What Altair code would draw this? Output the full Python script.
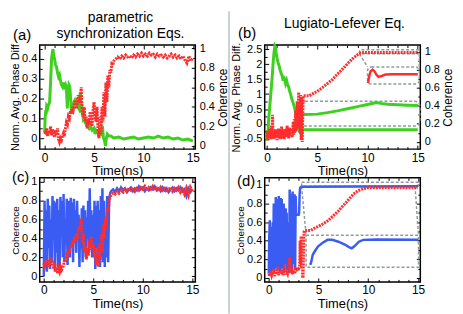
import altair as alt
import pandas as pd

FONT = "Liberation Sans"
W, H = 157, 105
GREEN = "#3fcf1f"
RED = "#ff2d2d"
BLUE = "#3a5cf2"
GRAY = "#8e9c9c"

# tick positions (labels shown only on the major ones)
X_TICKS = [0, 1, 2, 3, 4, 5, 6, 7, 8, 9, 10, 11, 12, 13, 14, 15]
PHASE_A_TICKS = [0, 0.05, 0.1, 0.15, 0.2, 0.25, 0.3, 0.35, 0.4, 0.45]
PHASE_B_TICKS = [-0.5, -0.25, 0, 0.25, 0.5, 0.75, 1, 1.25, 1.5, 1.75, 2, 2.25, 2.5]
COH_TICKS = [0, 0.1, 0.2, 0.3, 0.4, 0.5, 0.6, 0.7, 0.8, 0.9, 1]

TITLE_A = ["parametric", "synchronization Eqs."]
TITLE_B = ["Lugiato-Lefever Eq."]

# ---------------- panel (a) ----------------
green_a = [(0,0.03),(0.05,0.10),(0.1,0.14),(0.15,0.12),(0.2,0.16),(0.3,0.15),(0.4,0.17),(0.5,0.18),
           (0.6,0.28),(0.7,0.40),(0.8,0.44),(0.85,0.45),(0.9,0.42),(1.0,0.40),(1.1,0.37),(1.2,0.36),
           (1.3,0.33),(1.4,0.31),(1.5,0.32),(1.6,0.29),(1.7,0.27),(1.8,0.26),(1.9,0.28),(2.0,0.26),
           (2.1,0.27),(2.2,0.25),(2.3,0.15),(2.35,0.24),(2.45,0.27),(2.55,0.26),(2.65,0.18),(2.75,0.13),
           (2.85,0.16),(2.95,0.18),(3.05,0.19),(3.15,0.17),(3.25,0.20),(3.35,0.16),(3.45,0.15),(3.55,0.21),
           (3.62,0.23),(3.7,0.13),(3.8,0.14),(3.9,0.10),(4.0,0.11),(4.1,0.08),(4.2,0.07),(4.3,0.09),
           (4.4,0.06),(4.5,0.05),(4.6,0.06),(4.8,0.04),(5.0,0.05),(5.1,0.02),(5.2,0.04),(5.4,0.03),
           (5.5,0.01),(5.6,0.03),(5.75,0.02),(5.85,0.06),(5.95,0.00),(6.05,-0.01),(6.15,-0.04),(6.25,0.00),
           (6.35,0.02),(6.5,0.01),(6.7,0.01),(7.0,0.00),(7.5,0.005),(8.0,-0.005),(8.5,0.00),(9.0,0.005),
           (9.5,-0.005),(10.0,0.00),(10.5,0.005),(11.0,0.00),(11.5,0.01),(12.0,0.00),(12.5,0.005),
           (13.0,-0.005),(13.5,0.00),(14.0,-0.01),(14.5,-0.005),(15.0,-0.015)]
red_a = [(0,0.15),(0.1,0.12),(0.2,0.18),(0.3,0.10),(0.4,0.16),(0.5,0.13),(0.6,0.20),(0.7,0.11),(0.8,0.17),
         (0.9,0.14),(1.0,0.09),(1.1,0.16),(1.2,0.12),(1.3,0.18),(1.4,0.07),(1.5,0.04),(1.6,0.08),(1.7,0.06),
         (1.8,0.10),(1.9,0.13),(2.0,0.10),(2.1,0.18),(2.2,0.24),(2.3,0.22),(2.4,0.30),(2.5,0.28),(2.6,0.36),
         (2.7,0.33),(2.8,0.40),(2.9,0.37),(3.0,0.42),(3.1,0.47),(3.2,0.38),(3.3,0.45),(3.4,0.52),(3.5,0.44),
         (3.6,0.48),(3.7,0.60),(3.8,0.35),(3.9,0.30),(4.0,0.40),(4.1,0.25),(4.2,0.30),(4.3,0.18),(4.4,0.28),
         (4.5,0.22),(4.6,0.35),(4.7,0.26),(4.8,0.20),(4.9,0.38),(5.0,0.45),(5.1,0.30),(5.2,0.25),(5.3,0.40),
         (5.4,0.15),(5.5,0.08),(5.6,0.30),(5.7,0.12),(5.8,0.40),(5.9,0.25),(6.0,0.55),(6.1,0.30),(6.2,0.65),
         (6.3,0.45),(6.4,0.72),(6.5,0.60),(6.6,0.78),(6.7,0.75),(6.8,0.84),(6.9,0.83),(7.0,0.87),(7.2,0.89),
         (7.4,0.91),(7.6,0.89),(7.8,0.92),(8.0,0.90),(8.2,0.93),(8.4,0.91),(8.6,0.92),(8.8,0.90),(9.0,0.93),
         (9.2,0.91),(9.4,0.94),(9.6,0.92),(9.8,0.95),(10.0,0.92),(10.2,0.94),(10.4,0.92),(10.6,0.95),
         (10.8,0.93),(11.0,0.94),(11.2,0.91),(11.4,0.94),(11.6,0.92),(11.8,0.93),(12.0,0.91),(12.2,0.93),
         (12.4,0.90),(12.6,0.92),(12.8,0.94),(13.0,0.91),(13.2,0.93),(13.4,0.90),(13.6,0.92),(13.8,0.89),
         (14.0,0.92),(14.2,0.88),(14.4,0.85),(14.6,0.92),(14.8,0.87),(15.0,0.90)]

# ---------------- panel (b) ----------------
green_b = [(0,-0.55),(0.05,-0.2),(0.1,-0.4),(0.15,0.1),(0.2,0.3),(0.3,0.7),(0.4,1.1),(0.5,1.5),(0.6,2.0),
           (0.7,2.4),(0.78,2.6),(0.85,2.55),(0.9,2.4),(1.0,2.2),(1.1,2.05),(1.2,1.95),(1.3,1.8),(1.4,1.7),
           (1.5,1.62),(1.6,1.45),(1.65,1.6),(1.75,1.5),(1.85,1.35),(1.95,1.45),(2.05,1.3),(2.15,1.25),
           (2.25,1.1),(2.35,1.0),(2.45,0.85),(2.55,0.75),(2.7,0.6),(2.8,0.45),(2.9,0.3),(3.0,0.15),
           (3.1,-0.05),(3.2,-0.2),(3.3,-0.3),(3.4,-0.32),(3.5,-0.25),(3.6,-0.19),(4.0,-0.19),(15.0,-0.19)]
red_b = [(0,0.05),(0.05,0.12),(0.1,0.02),(0.15,0.10),(0.2,0.04),(0.25,0.15),(0.3,0.06),(0.35,0.12),(0.4,0.03),
         (0.45,0.18),(0.5,0.08),(0.55,0.30),(0.6,0.05),(0.65,0.12),(0.7,0.03),(0.75,0.10),(0.8,0.06),(0.85,0.14),
         (0.9,0.04),(0.95,0.09),(1.0,0.02),(1.05,0.12),(1.1,0.06),(1.15,0.15),(1.2,0.05),(1.25,0.10),(1.3,0.03),
         (1.35,0.13),(1.4,0.07),(1.45,0.17),(1.5,0.04),(1.55,0.11),(1.6,0.06),(1.65,0.14),(1.7,0.03),(1.75,0.09),
         (1.8,0.12),(1.85,0.05),(1.9,0.15),(1.95,0.08),(2.0,0.18),(2.05,0.06),(2.1,0.12),(2.15,0.04),(2.2,0.10),
         (2.25,0.16),(2.3,0.07),(2.4,0.13),(2.5,0.05),(2.6,0.22),(2.65,0.08),(2.7,0.25),(2.75,0.10),(2.8,0.15),
         (2.85,0.35),(2.9,0.12),(2.95,0.20),(3.0,0.45),(3.05,0.15),(3.1,0.30),(3.15,0.55),(3.2,0.20),(3.25,0.40),
         (3.3,0.10),(3.35,0.52),(3.4,0.02),(3.45,0.50),(3.5,0.0),(3.6,0.51),(4.2,0.51),(4.5,0.53),(5.0,0.56),
         (5.5,0.60),(6.0,0.645),(6.5,0.69),(7.0,0.75),(7.5,0.805),(8.0,0.865),(8.5,0.92),(9.0,0.965),
         (9.3,0.985),(9.6,0.99),(10.0,0.99),(15.0,0.99)]
inset_red_b = [(10.05,0.65),(10.15,0.72),(10.3,0.78),(10.5,0.80),(10.7,0.78),(10.9,0.74),(11.1,0.72),
               (11.4,0.73),(11.8,0.745),(12.5,0.75),(15.0,0.75)]
inset_green_b = [(3.4,0.12),(3.5,0.31),(3.7,0.32),(5.0,0.33),(6.0,0.38),(7.0,0.44),(8.0,0.51),(9.0,0.58),
                 (10.0,0.65),(10.9,0.72),(11.3,0.69),(12.0,0.66),(13.0,0.645),(14.0,0.63),(15.0,0.62)]
# dashed boxes (t0, t1, v0, v1) and connectors (t0, v0, t1, v1)
boxes_b_right = [(9.2, 15.15, 0.975, 1.02), (10.0, 15.15, 0.64, 0.83)]
links_b_right = [(9.2, 0.975, 10.0, 0.83), (15.15, 0.975, 15.15, 0.83)]
boxes_b_left = [(3.3, 15.2, -0.07, 0.76)]

# ---------------- panel (c) ----------------
blue_c = [(0,0.00),(0.08,0.80),(0.16,0.10),(0.24,0.70),(0.32,0.05),(0.40,0.82),(0.48,0.30),(0.56,0.75),
          (0.64,0.08),(0.72,0.60),(0.80,0.15),(0.88,0.85),(0.96,0.40),(1.04,0.80),(1.12,0.05),(1.20,0.78),
          (1.28,0.25),(1.36,0.82),(1.44,0.10),(1.52,0.70),(1.60,0.06),(1.68,0.84),(1.76,0.45),(1.84,0.80),
          (1.92,0.20),(2.00,0.87),(2.08,0.15),(2.16,0.60),(2.24,0.35),(2.32,0.82),(2.40,0.12),(2.48,0.50),
          (2.56,0.80),(2.64,0.20),(2.72,0.83),(2.80,0.30),(2.88,0.78),(2.96,0.15),(3.04,0.82),(3.12,0.45),
          (3.20,0.70),(3.28,0.25),(3.36,0.80),(3.44,0.45),(3.52,0.65),(3.60,0.10),(3.68,0.60),(3.76,0.30),
          (3.84,0.72),(3.92,0.15),(4.00,0.75),(4.08,0.35),(4.16,0.70),(4.24,0.20),(4.32,0.62),(4.40,0.40),
          (4.48,0.80),(4.56,0.25),(4.64,0.93),(4.72,0.30),(4.80,0.70),(4.88,0.20),(4.96,0.65),(5.04,0.25),
          (5.12,0.80),(5.20,0.08),(5.28,0.75),(5.36,0.30),(5.44,0.80),(5.52,0.15),(5.60,0.70),(5.68,0.10),
          (5.76,0.85),(5.84,0.20),(5.92,0.93),(6.00,0.15),(6.08,0.80),(6.16,0.10),(6.24,0.60),(6.32,0.20),
          (6.40,0.85),(6.50,0.15),(6.60,0.80),(6.70,0.88),(6.80,0.90),(7.0,0.92),(7.2,0.89),(7.4,0.93),
          (7.6,0.90),(7.8,0.94),(8.0,0.91),(8.2,0.93),(8.4,0.89),(8.6,0.92),(8.8,0.94),(9.0,0.90),(9.2,0.93),
          (9.4,0.91),(9.6,0.95),(9.8,0.92),(10.0,0.94),(10.2,0.90),(10.4,0.93),(10.6,0.91),(10.8,0.94),
          (11.0,0.92),(11.2,0.95),(11.4,0.91),(11.6,0.93),(11.8,0.90),(12.0,0.94),(12.2,0.91),(12.4,0.93),
          (12.6,0.89),(12.8,0.92),(13.0,0.94),(13.2,0.90),(13.4,0.93),(13.6,0.91),(13.8,0.94),(14.0,0.90),
          (14.2,0.92),(14.4,0.85),(14.6,0.93),(14.8,0.89),(15.0,0.92)]
red_c = [(0,0.14),(0.1,0.11),(0.2,0.16),(0.3,0.12),(0.4,0.18),(0.5,0.10),(0.6,0.15),(0.7,0.20),(0.8,0.12),
         (0.9,0.17),(1.0,0.08),(1.1,0.14),(1.2,0.06),(1.3,0.10),(1.4,0.03),(1.5,0.08),(1.6,0.05),(1.7,0.10),
         (1.8,0.07),(1.9,0.09),(2.0,0.12),(2.1,0.18),(2.2,0.15),(2.3,0.22),(2.4,0.20),(2.5,0.28),(2.6,0.25),
         (2.7,0.33),(2.8,0.30),(2.9,0.38),(3.0,0.35),(3.1,0.42),(3.2,0.37),(3.3,0.45),(3.4,0.40),(3.5,0.52),
         (3.6,0.48),(3.7,0.58),(3.8,0.61),(3.9,0.35),(4.0,0.45),(4.1,0.25),(4.2,0.32),(4.3,0.18),(4.4,0.30),
         (4.5,0.22),(4.6,0.38),(4.7,0.28),(4.8,0.42),(4.9,0.30),(5.0,0.35),(5.1,0.20),(5.2,0.30),(5.3,0.12),
         (5.4,0.25),(5.5,0.10),(5.6,0.35),(5.7,0.15),(5.8,0.45),(5.9,0.25),(6.0,0.55),(6.1,0.40),(6.2,0.62),
         (6.3,0.50),(6.4,0.72),(6.5,0.68),(6.6,0.80),(6.7,0.84),(6.8,0.86),(7.0,0.88),(7.2,0.87),(7.4,0.90),
         (7.6,0.88),(7.8,0.91),(8.0,0.89),(8.2,0.92),(8.4,0.90),(8.6,0.93),(8.8,0.91),(9.0,0.94),(9.2,0.90),
         (9.4,0.93),(9.6,0.91),(9.8,0.94),(10.0,0.92),(10.2,0.95),(10.4,0.91),(10.6,0.94),(10.8,0.92),
         (11.0,0.95),(11.2,0.91),(11.4,0.93),(11.6,0.90),(11.8,0.94),(12.0,0.91),(12.2,0.93),(12.4,0.89),
         (12.6,0.92),(12.8,0.94),(13.0,0.90),(13.2,0.93),(13.4,0.91),(13.6,0.94),(13.8,0.89),(14.0,0.92),
         (14.2,0.87),(14.4,0.93),(14.6,0.86),(14.8,0.94),(15.0,0.90)]

# ---------------- panel (d) ----------------
blue_d = [(0,0.05),(0.05,0.45),(0.1,0.62),(0.15,0.10),(0.2,0.55),(0.25,0.05),(0.3,0.35),(0.35,0.08),(0.4,0.60),
          (0.45,0.15),(0.5,0.80),(0.55,0.06),(0.6,0.70),(0.65,0.20),(0.7,0.87),(0.75,0.10),(0.8,0.85),(0.85,0.30),
          (0.9,0.60),(0.95,0.08),(1.0,0.88),(1.05,0.15),(1.1,0.75),(1.15,0.05),(1.2,0.86),(1.25,0.40),(1.3,0.85),
          (1.35,0.10),(1.4,0.65),(1.45,0.20),(1.5,0.80),(1.55,0.06),(1.6,0.55),(1.65,0.15),(1.7,0.75),(1.75,0.30),
          (1.8,0.70),(1.85,0.08),(1.9,0.45),(1.95,0.12),(2.0,0.60),(2.05,0.05),(2.1,0.95),(2.15,0.10),(2.2,0.90),
          (2.25,0.20),(2.3,0.70),(2.35,0.06),(2.4,0.93),(2.45,0.15),(2.5,0.85),(2.55,0.30),(2.6,0.90),(2.65,0.10),
          (2.7,0.88),(2.75,0.68),(2.8,0.68),(3.0,0.68),(3.05,0.70),(3.1,0.90),(3.15,0.97),(3.3,0.98),(15.0,0.985)]
red_d = [(0,0.05),(0.1,0.02),(0.2,0.08),(0.3,0.03),(0.4,0.06),(0.5,0.10),(0.6,0.02),(0.7,0.07),(0.8,0.04),
         (0.9,0.12),(1.0,0.03),(1.1,0.08),(1.2,0.05),(1.3,0.09),(1.4,0.03),(1.5,0.07),(1.6,0.15),(1.7,0.04),
         (1.8,0.08),(1.9,0.05),(2.0,0.10),(2.1,0.22),(2.2,0.06),(2.3,0.09),(2.4,0.04),(2.5,0.08),(2.6,0.05),
         (2.7,0.10),(2.8,0.09),(2.9,0.11),(3.0,0.10),(3.1,0.12),(3.15,0.40),(3.2,0.15),(3.25,0.45),(3.3,0.10),
         (3.35,0.45),(3.4,0.02),(3.45,0.02),(3.5,0.35),(3.55,0.50),(3.6,0.51),(4.2,0.51),(4.5,0.53),(5.0,0.555),
         (5.5,0.585),(6.0,0.62),(6.5,0.67),(7.0,0.72),(7.5,0.78),(8.0,0.84),(8.5,0.90),(9.0,0.94),(9.5,0.96),
         (10.0,0.97),(15.0,0.97)]
inset_blue_d = [(4.17,0.14),(4.26,0.17),(4.42,0.25),(4.64,0.29),(4.96,0.34),(5.43,0.38),(5.9,0.41),(6.38,0.41),
                (7.0,0.39),(7.64,0.36),(8.1,0.33),(8.34,0.32),(8.6,0.34),(9.06,0.39),(9.5,0.41),(10.8,0.415),
                (15.0,0.41)]
boxes_d = [(3.3, 15.05, 0.985, 1.03), (3.75, 15.05, 0.115, 0.46)]
links_d = [(3.3, 0.985, 3.75, 0.46), (14.7, 0.985, 15.05, 0.46)]

FMT = "replace(format(datum.value, '~g'), '\u2212', '-')"


def is_major(k):
    return f"abs(datum.value * {k} - round(datum.value * {k})) < 0.001"


def pts(pairs):
    return pd.DataFrame({"t": [p[0] for p in pairs], "v": [p[1] for p in pairs]})


def box_df(rows):
    return pd.DataFrame({"t0": [r[0] for r in rows], "t1": [r[1] for r in rows],
                         "v0": [r[2] for r in rows], "v1": [r[3] for r in rows]})


def link_df(rows):
    return pd.DataFrame({"t0": [r[0] for r in rows], "v0": [r[1] for r in rows],
                         "t1": [r[2] for r in rows], "v1": [r[3] for r in rows]})


def tick_dash(length, a, both):
    # inward ticks drawn as the first (and last) dash of each grid line
    return [a, length - 2 * a, a, 3000] if both else [a, 3000]


def x_axis():
    return alt.Axis(values=X_TICKS, title="Time(ns)", labelFontSize=12, titleFontSize=13,
                    labelPadding=3, titlePadding=2, domain=False, ticks=False,
                    labelOverlap=False, labelExpr=f"{is_major(0.2)} ? datum.label : ''",
                    grid=True, gridColor="black", gridWidth=1, gridOpacity=1,
                    gridDash={"condition": {"test": is_major(0.2), "value": tick_dash(H, 4, True)},
                              "value": tick_dash(H, 2.5, True)})


def y_axis(orient, values, title, k, both, tsize=11):
    kw = dict(orient=orient, values=values, title=title, labelFontSize=11, titleFontSize=tsize,
              labelPadding=3, titlePadding=1, domain=False, ticks=False, labelOverlap=False,
              labelExpr=f"{is_major(k)} ? {FMT} : ''",
              grid=True, gridColor="black", gridWidth=1, gridOpacity=1,
              gridDash={"condition": {"test": is_major(k), "value": tick_dash(W, 4, both)},
                        "value": tick_dash(W, 2.5, both)})
    if orient == "right":
        kw["titleAngle"] = 270
        kw["titleBaseline"] = "top"
        kw["titlePadding"] = 3
        kw["labelPadding"] = 4
    return alt.Axis(**kw)


def xs(field, dom):
    return alt.X(field, scale=alt.Scale(domain=dom, nice=False, zero=False), axis=x_axis())


def ys(field, dom, axis):
    return alt.Y(field, scale=alt.Scale(domain=dom, nice=False, zero=False), axis=axis)


def line(pairs, xdom, ydom, axis, color, dashed=False, width=3):
    kw = dict(color=color, strokeWidth=width)
    if dashed:
        kw["strokeDash"] = [2, 1]
    return alt.Chart(pts(pairs)).mark_line(**kw).encode(
        x=xs("t:Q", xdom), y=ys("v:Q", ydom, axis), order="t:Q")


def boxes(rows, xdom, ydom, axis, radius=0):
    return alt.Chart(box_df(rows)).mark_rect(
        fillOpacity=0, stroke=GRAY, strokeWidth=1.5, strokeDash=[3, 2], cornerRadius=radius
    ).encode(x=xs("t0:Q", xdom), x2="t1:Q", y=ys("v0:Q", ydom, axis), y2="v1:Q")


def links(rows, xdom, ydom, axis):
    return alt.Chart(link_df(rows)).mark_rule(
        stroke=GRAY, strokeWidth=1.5, strokeDash=[3, 2]
    ).encode(x=xs("t0:Q", xdom), x2="t1:Q", y=ys("v0:Q", ydom, axis), y2="v1:Q")


def label(txt, dx, dy, size=15, align="left"):
    return alt.Chart(pd.DataFrame({"lab": [txt]})).mark_text(
        font=FONT, fontSize=size, align=align, baseline="middle", color="black"
    ).encode(x=alt.value(dx), y=alt.value(dy), text="lab:N")


# ---- (a)
XA = [-0.5, 15.25]
YA_L = [-0.056, 0.47]
YA_R = [-0.032, 1.033]
ax_a_l = y_axis("left", PHASE_A_TICKS, "Norm. Avg. Phase Diff", 10, False)
ax_a_r = y_axis("right", COH_TICKS, "Coherence", 5, False, 12)
panel_a = alt.layer(
    line(green_a, XA, YA_L, ax_a_l, GREEN),
    line(red_a, XA, YA_R, ax_a_r, RED, dashed=True),
    label("(a)", -27, -10),
    label(TITLE_A[0], W / 2 + 3, -27, 14, "center"),
    label(TITLE_A[1], W / 2 + 3, -11, 14, "center"),
).resolve_scale(y="independent").properties(width=W, height=H)

# ---- (b)
XB = [-0.23, 15.25]
YB_L = [-0.84, 2.64]
YB_R = [-0.08, 1.072]
ax_b_l = y_axis("left", PHASE_B_TICKS, "Norm. Avg. Phase Diff.", 2, False)
ax_b_r = y_axis("right", COH_TICKS, "Coherence", 5, False, 12)
left_b = alt.layer(
    boxes(boxes_b_left, XB, YB_L, ax_b_l, radius=5),
    line(green_b, XB, YB_L, ax_b_l, GREEN),
    line(inset_green_b, XB, YB_L, ax_b_l, GREEN),
)
right_b = alt.layer(
    boxes(boxes_b_right, XB, YB_R, ax_b_r, radius=4),
    links(links_b_right, XB, YB_R, ax_b_r),
    line(red_b, XB, YB_R, ax_b_r, RED, dashed=True),
    line(inset_red_b, XB, YB_R, ax_b_r, RED, width=2.5),
)
panel_b = alt.layer(
    left_b, right_b,
    label("(b)", -27, -12),
    label(TITLE_B[0], W / 2 + 2, -21, 14, "center"),
).resolve_scale(y="independent").properties(width=W, height=H)

# ---- (c)
XC = [-0.41, 15.3]
YC = [-0.058, 1.041]
ax_c = y_axis("left", COH_TICKS, "Coherence", 5, True, 10)
panel_c = alt.layer(
    line(blue_c, XC, YC, ax_c, BLUE, width=2.5),
    line(red_c, XC, YC, ax_c, RED, dashed=True),
    label("(c)", -28, -1),
).properties(width=W, height=H)

# ---- (d)
XD = [-0.41, 15.23]
YD = [-0.042, 1.076]
ax_d = y_axis("left", COH_TICKS, "Coherence", 5, True, 10)
sep = alt.Chart(pd.DataFrame({"s": [0]})).mark_rule(color="#b9c3c3", strokeWidth=1.5).encode(
    x=alt.value(-36), y=alt.value(-(H + 29 + 34)), y2=alt.value(H + 32))
panel_d = alt.layer(
    sep,
    boxes(boxes_d, XD, YD, ax_d),
    links(links_d, XD, YD, ax_d),
    line(blue_d, XD, YD, ax_d, BLUE, width=2.5),
    line(red_d, XD, YD, ax_d, RED, dashed=True),
    line(inset_blue_d, XD, YD, ax_d, BLUE, width=2.5),
    label("(d)", -28, 3),
).properties(width=W, height=H)

chart = alt.concat(
    panel_a, panel_b, panel_c, panel_d, columns=2,
    spacing={"row": 29, "column": 70}, bounds="flush",
).properties(padding=0).configure_view(
    stroke="black", strokeWidth=1.5
).configure_axis(
    labelFont=FONT, titleFont=FONT, titleFontWeight="normal", labelColor="black", titleColor="black"
)

chart.save("out.html", embed_options={"renderer": "svg", "actions": False})
